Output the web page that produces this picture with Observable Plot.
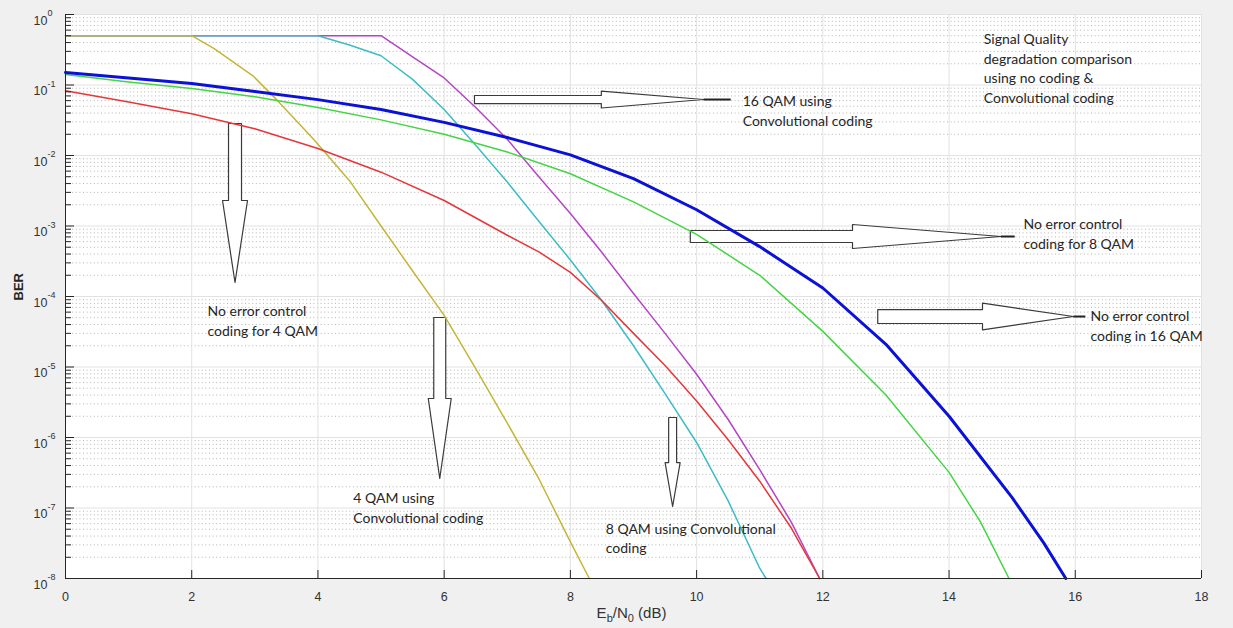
<!DOCTYPE html>
<html>
<head>
<meta charset="utf-8">
<script src="https://cdn.jsdelivr.net/npm/d3@7"></script>
<script src="https://cdn.jsdelivr.net/npm/@observablehq/plot@0.6"></script>
<style>
  html, body { margin: 0; padding: 0; background: #f0f0f0; }
  #chart svg { display: block; }
</style>
</head>
<body>
<div id="chart"></div>
<script>
// ---------- data ----------
const xTicks = [0, 2, 4, 6, 8, 10, 12, 14, 16, 18];
const yExponents = [0, -1, -2, -3, -4, -5, -6, -7, -8];

// 16 QAM, no error control coding (blue, thick)
const ebn0_16qam_uncoded = [0, 1, 2, 3, 4, 5, 6, 7, 8, 9, 10, 11, 12, 13, 14, 15, 15.5, 15.85];
const ber_16qam_uncoded  = [0.151, 0.126, 0.105, 0.081, 0.062, 0.045, 0.0295, 0.018, 0.0102, 0.0047, 0.0017, 5.1e-4, 1.32e-4, 2.1e-5, 2e-6, 1.4e-7, 3.2e-8, 1e-8];

// 8 QAM, no error control coding (green)
const ebn0_8qam_uncoded = [0, 1, 2, 3, 4, 5, 6, 7, 8, 9, 10, 11, 12, 13, 14, 14.5, 14.95];
const ber_8qam_uncoded  = [0.141, 0.11, 0.089, 0.068, 0.048, 0.032, 0.02, 0.0112, 0.0055, 0.0022, 7.6e-4, 2e-4, 3.2e-5, 4e-6, 3.2e-7, 6.3e-8, 1e-8];

// 4 QAM, no error control coding (red)
const ebn0_4qam_uncoded = [0, 1, 2, 3, 4, 5, 6, 7, 7.5, 8, 8.5, 9, 9.5, 10, 10.5, 11, 11.5, 11.95];
const ber_4qam_uncoded  = [0.083, 0.0575, 0.039, 0.024, 0.0126, 0.0058, 0.0023, 7.4e-4, 4.3e-4, 2.2e-4, 8.7e-5, 3e-5, 1.05e-5, 3.3e-6, 9.3e-7, 2.4e-7, 5.2e-8, 1e-8];

// 16 QAM, convolutional coding (magenta)
const ebn0_16qam_conv = [0, 5, 5.5, 6, 6.5, 7, 7.5, 8, 8.5, 9, 9.5, 10, 10.5, 11, 11.5, 11.95];
const ber_16qam_conv  = [0.5, 0.5, 0.25, 0.126, 0.048, 0.017, 0.005, 0.0015, 4.2e-4, 1.1e-4, 3e-5, 7.9e-6, 1.8e-6, 3.5e-7, 6.3e-8, 1e-8];

// 8 QAM, convolutional coding (cyan)
const ebn0_8qam_conv = [0, 4, 4.5, 5, 5.5, 6, 6.5, 7, 7.5, 8, 8.5, 9, 9.5, 10, 10.5, 11, 11.1];
const ber_8qam_conv  = [0.5, 0.5, 0.37, 0.26, 0.12, 0.045, 0.014, 0.0042, 0.00117, 3.3e-4, 8.7e-5, 2e-5, 4.2e-6, 8.5e-7, 1.26e-7, 1.4e-8, 1e-8];

// 4 QAM, convolutional coding (olive / yellow)
const ebn0_4qam_conv = [0, 2, 2.35, 2.97, 3.36, 3.92, 4.5, 5, 5.5, 6, 6.5, 7, 7.5, 8, 8.3];
const ber_4qam_conv  = [0.5, 0.5, 0.33, 0.135, 0.06, 0.0174, 0.0044, 0.001, 2.3e-4, 5.4e-5, 9.5e-6, 1.6e-6, 2.6e-7, 3.3e-8, 1e-8];

// annotation texts (data coordinates: dB, BER of first line)
const notes = [
  {x: 10.73, y: 0.065,  text: "16 QAM using\nConvolutional coding"},
  {x: 14.55, y: 0.49,   text: "Signal Quality\ndegradation comparison\nusing no coding &\nConvolutional coding"},
  {x: 15.18, y: 1.16e-3, text: "No error control\ncoding for 8 QAM"},
  {x: 16.24, y: 5.8e-5, text: "No error control\ncoding in 16 QAM"},
  {x: 2.25,  y: 6.8e-5, text: "No error control\ncoding for 4 QAM"},
  {x: 4.56,  y: 1.5e-7, text: "4 QAM using\nConvolutional coding"},
  {x: 8.56,  y: 5.6e-8, text: "8 QAM using Convolutional\ncoding"}
];

// block arrows (dB positions; BER positions; half widths in decades / dB)
const hArrows = [
  {id: "a1", tail: 6.48, neck: 8.49, tip: 10.11, end: 10.54, at: 10 ** -1.206, shaft: 0.057, head: 0.12},
  {id: "a2", tail: 9.90, neck: 12.47, tip: 14.82, end: 15.04, at: 10 ** -3.149, shaft: 0.085, head: 0.17},
  {id: "a3", tail: 12.87, neck: 14.53, tip: 15.97, end: 16.16, at: 10 ** -4.284, shaft: 0.099, head: 0.19}
];
const vArrows = [
  {id: "a4", at: 2.686, tail: 10 ** -1.546, neck: 10 ** -2.638, tip: 10 ** -3.801, shaft: 0.103, head: 0.198},
  {id: "a5", at: 5.93,  tail: 10 ** -4.298, neck: 10 ** -5.447, tip: 10 ** -6.582, shaft: 0.095, head: 0.182},
  {id: "a6", at: 9.62,  tail: 10 ** -5.716, neck: 10 ** -6.355, tip: 10 ** -6.979, shaft: 0.063, head: 0.119}
];

// ---------- helpers ----------
const rows = (xs, ys) => xs.map((x, i) => ({x, y: ys[i]}));
const minorY = yExponents.filter(k => k < 0).flatMap(k => d3.range(2, 10).map(m => m * 10 ** k));
const majorY = yExponents.map(k => 10 ** k);

const arrowPts = [];
for (const a of hArrows) {
  const up = f => a.at * 10 ** f, dn = f => a.at / 10 ** f;
  arrowPts.push(
    {id: a.id, x: a.tail, y: up(a.shaft)}, {id: a.id, x: a.neck, y: up(a.shaft)},
    {id: a.id, x: a.neck, y: up(a.head)},  {id: a.id, x: a.tip,  y: a.at},
    {id: a.id, x: a.neck, y: dn(a.head)},  {id: a.id, x: a.neck, y: dn(a.shaft)},
    {id: a.id, x: a.tail, y: dn(a.shaft)}
  );
}
for (const a of vArrows) {
  arrowPts.push(
    {id: a.id, x: a.at - a.shaft, y: a.tail}, {id: a.id, x: a.at + a.shaft, y: a.tail},
    {id: a.id, x: a.at + a.shaft, y: a.neck}, {id: a.id, x: a.at + a.head,  y: a.neck},
    {id: a.id, x: a.at,           y: a.tip},  {id: a.id, x: a.at - a.head,  y: a.neck},
    {id: a.id, x: a.at - a.shaft, y: a.neck}
  );
}

const W = 1233, H = 628;
const mL = 65, mR = 32, mT = 14, mB = 50;
const plotW = W - mL - mR, plotH = H - mT - mB;
const axisColor = "#262626";
const textFont = "Lato, 'Open Sans', sans-serif";

const curve = (xs, ys, stroke, strokeWidth) =>
  Plot.line(rows(xs, ys), {x: "x", y: "y", stroke, strokeWidth, curve: "linear", strokeLinejoin: "round"});

const chart = Plot.plot({
  width: W, height: H,
  marginLeft: mL, marginRight: mR, marginTop: mT, marginBottom: mB,
  style: {background: "#f0f0f0", fontFamily: "'Liberation Sans', Arial, sans-serif", color: axisColor, overflow: "visible"},
  x: {domain: [0, 18], axis: null},
  y: {type: "log", domain: [1e-8, 1], axis: null},
  marks: [
    Plot.frame({fill: "white", stroke: null}),
    // grid
    Plot.ruleY(minorY, {y: d => d, stroke: "#b4b4b4", strokeDasharray: "1,2.6", strokeWidth: 1}),
    Plot.ruleY(majorY.slice(0, -1), {y: d => d, stroke: "#e2e2e2", strokeWidth: 1}),
    Plot.ruleX(xTicks.slice(1), {x: d => d, stroke: "#e2e2e2", strokeWidth: 1}),
    // arrows
    Plot.line(arrowPts, {x: "x", y: "y", z: "id", curve: "linear-closed", fill: "white", stroke: "#3a3a3a", strokeWidth: 1.2}),
    Plot.link(hArrows, {x1: "tip", x2: "end", y1: "at", y2: "at", stroke: "#222", strokeWidth: 2}),
    // curves
    curve(ebn0_16qam_conv, ber_16qam_conv, "#b545c6", 1.5),
    curve(ebn0_8qam_conv, ber_8qam_conv, "#3dbcc4", 1.5),
    curve(ebn0_4qam_conv, ber_4qam_conv, "#c4b638", 1.5),
    curve(ebn0_8qam_uncoded, ber_8qam_uncoded, "#44d444", 1.5),
    curve(ebn0_16qam_uncoded, ber_16qam_uncoded, "#0b12d6", 3),
    curve(ebn0_4qam_uncoded, ber_4qam_uncoded, "#e5373b", 1.5),
    // axes lines
    Plot.ruleX([0], {x: d => d, stroke: axisColor}),
    Plot.ruleY([1e-8], {y: d => d, stroke: axisColor}),
    // ticks (inward)
    Plot.tickX(xTicks.slice(1), {x: d => d, stroke: axisColor, insetTop: plotH - 8}),
    Plot.tickY(majorY, {y: d => d, stroke: axisColor, insetRight: plotW - 9}),
    Plot.tickY(minorY, {y: d => d, stroke: axisColor, insetRight: plotW - 6}),
    // tick labels
    Plot.text(xTicks, {x: d => d, y: () => 1e-8, text: d => String(d), dy: 18, fontSize: 12.5, fill: "#333"}),
    Plot.text(yExponents, {x: () => 0, y: k => 10 ** k, text: () => "10", textAnchor: "end", dx: -18, dy: 6, fontSize: 12.5, fill: "#333"}),
    Plot.text(yExponents, {x: () => 0, y: k => 10 ** k, text: k => String(k), textAnchor: "start", dx: -18, dy: -1, fontSize: 9, fill: "#333"}),
    // axis labels
    Plot.text(["BER"], {frameAnchor: "left", text: d => d, rotate: -90, dx: -47, dy: 4, fontSize: 13, fontWeight: "bold", fill: axisColor}),
    Plot.text(["Eb/N0 (dB)"], {frameAnchor: "bottom", text: d => d, dy: 39, dx: -2, fontSize: 15, fill: "#333"}),
    // annotations
    Plot.text(notes, {x: "x", y: "y", text: "text", textAnchor: "start", lineAnchor: "top", dy: -6, lineHeight: 1.393, fontSize: 14, fontFamily: textFont, fill: "#262626"})
  ]
});

// subscripts for the x-axis label
d3.select(chart).selectAll("text").filter(function () { return this.textContent === "Eb/N0 (dB)"; }).each(function () {
  const t = d3.select(this);
  t.text(null);
  t.append("tspan").text("E");
  t.append("tspan").attr("font-size", "11px").attr("dy", 4).text("b");
  t.append("tspan").attr("dy", -4).text("/N");
  t.append("tspan").attr("font-size", "11px").attr("dy", 4).text("0");
  t.append("tspan").attr("dy", -4).text(" (dB)");
});

document.getElementById("chart").appendChild(chart);
</script>
</body>
</html>
